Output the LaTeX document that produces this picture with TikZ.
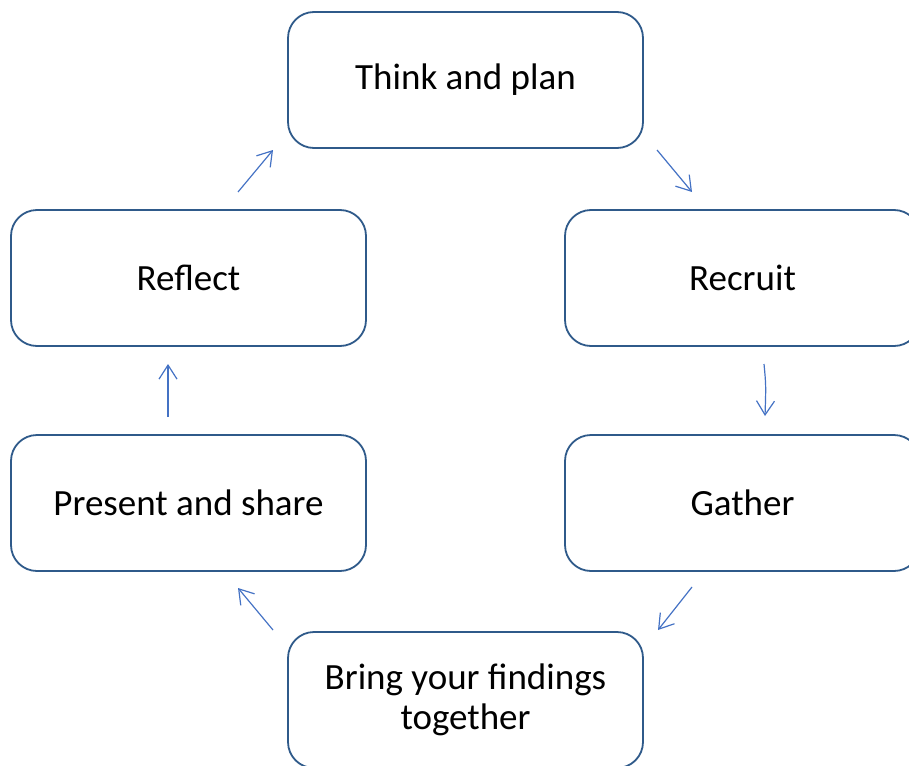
\documentclass[tikz,border=0pt]{standalone}
\usepackage{fontspec}
\setmainfont{Carlito}
\usetikzlibrary{arrows.meta}
\definecolor{boxline}{HTML}{2F5A8A}
\definecolor{arrcol}{HTML}{4472C4}
\begin{document}
\begin{tikzpicture}[x=1pt,y=-1pt,
  stage/.style={draw=boxline, line width=1.8pt, rounded corners=26pt, fill=white,
    minimum width=355pt, minimum height=136pt, align=center,
    font=\fontsize{37}{40}\selectfont, text=black},
  arr/.style={draw=arrcol, line width=1.2pt, -{Straight Barb[length=14pt,width=18pt]}}]
\useasboundingbox (0,0) rectangle (909,765);
\node[stage] (think) at (465.5,80) {Think and plan};
\node[stage] (recruit) at (742.5,278) {Recruit};
\node[stage] (gather) at (742.5,503) {Gather};
\node[stage] (bring) at (465.5,700) {Bring your findings\\together};
\node[stage] (present) at (188.5,503) {Present and share};
\node[stage] (reflect) at (188.5,278) {Reflect};
\coordinate (a1s) at (238,192); \coordinate (a1e) at (273,150);
\coordinate (a2s) at (657,150); \coordinate (a2e) at (692,192);
\coordinate (a3s) at (764,364); \coordinate (a3e) at (765,416);
\coordinate (a4s) at (692,587); \coordinate (a4e) at (658,630);
\coordinate (a5s) at (273,630); \coordinate (a5e) at (238,588);
\coordinate (a6s) at (168,417); \coordinate (a6e) at (168,364);
\draw[arr] (a1s) -- (a1e);
\draw[arr] (a2s) -- (a2e);
\draw[arr] (a3s) .. controls (766,385) .. (a3e);
\draw[arr] (a4s) -- (a4e);
\draw[arr] (a5s) -- (a5e);
\draw[arr] (a6s) -- (a6e);
\end{tikzpicture}
\end{document}
